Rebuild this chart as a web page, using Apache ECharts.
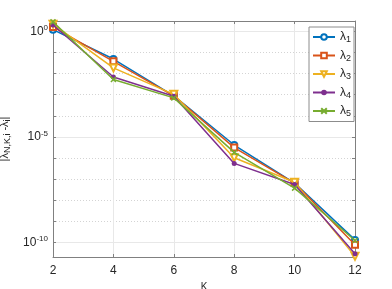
<!DOCTYPE html>
<html><head><meta charset="utf-8">
<script src="https://cdn.jsdelivr.net/npm/echarts@6/dist/echarts.min.js"></script>
<style>html,body{margin:0;padding:0;background:#fff}#c{width:392px;height:289px}</style>
</head><body><div id="c"></div>
<script>
var K = [2, 4, 6, 8, 10, 12];
var seriesNames = ['1', '2', '3', '4', '5'];
// log10 of |lambda_{N,K,i} - lambda_i|
var lam1 = [0.08, -1.31, -3.05, -5.38, -7.18, -9.87];
var lam2 = [0.21, -1.42, -3.05, -5.50, -7.18, -10.10];
var lam3 = [0.34, -1.73, -2.98, -5.98, -7.14, -10.65];
var lam4 = [0.30, -2.16, -3.07, -6.25, -7.25, -10.53];
var lam5 = [0.45, -2.28, -3.15, -5.73, -7.42, -9.90];
var yLabelExp = [0, -5, -10];
var yMinorExp = [0, -1, -2, -3, -4, -5, -6, -7, -8, -9, -10];
var colors = ['#0072BD', '#D95319', '#EDB120', '#7E2F8E', '#77AC30'];

var allExp = [lam1, lam2, lam3, lam4, lam5];
function pts(arr){ return arr.map(function(e,i){ return [K[i], Math.pow(10, e)]; }); }
function pw(a){ return a.map(function(e){ return Math.pow(10, e); }); }
var yMin = Math.pow(10, -10.68), yMax = Math.pow(10, 0.49);
var symbols = ['emptyCircle', 'emptyRect', 'emptyTriangle', 'circle', 'path://M0,0L10,10M10,0L0,10'];
var symSizes = [6, 6, 7, 5, 5];
var symRot = [0, 0, 180, 0, 0];
var txt = '#262626', axc = '#808080';

var series = allExp.map(function(arr, i){
  var it = i === 4 ? {color: 'none', borderColor: colors[i], borderWidth: 1.5} : {color: colors[i], borderWidth: 1.5};
  return {
    name: seriesNames[i], type: 'line', data: pts(arr),
    symbol: symbols[i], symbolSize: symSizes[i], symbolRotate: symRot[i],
    showAllSymbol: true,
    lineStyle: {color: colors[i], width: 1.5},
    itemStyle: it,
    emphasis: {disabled: true}, animation: false, z: 3 + i
  };
});

var chart = echarts.init(document.getElementById('c'), null, {renderer: 'canvas'});
chart.setOption({
  animation: false,
  grid: {left: 53, right: 37, top: 21, bottom: 32, containLabel: false, outerBoundsMode: 'none'},
  legend: {
    orient: 'vertical', left: 309, top: 27, itemWidth: 22, itemHeight: 7, itemGap: 5,
    padding: [4, 3, 3, 3], backgroundColor: '#fff', borderColor: '#8c8c8c', borderWidth: 1,
    data: seriesNames,
    formatter: function(n){ return '{a|λ}{s|' + n + '}'; },
    textStyle: {rich: {a: {fontSize: 12, color: txt, fontFamily: 'Liberation Sans'}, s: {fontSize: 9, color: txt, verticalAlign: 'bottom', padding: [6, 0, 0, 0], fontFamily: 'Liberation Sans'}}}
  },
  xAxis: [
    {type: 'value', min: 2, max: 12, interval: 2, position: 'bottom',
     axisLine: {lineStyle: {color: axc}}, axisTick: {inside: true, length: 3, lineStyle: {color: axc}},
     axisLabel: {color: txt, fontSize: 12, fontFamily: 'Liberation Sans', margin: 8},
     splitLine: {show: true, lineStyle: {color: '#e8e8e8', width: 1}},
     name: 'K', nameLocation: 'middle', nameGap: 20, nameTextStyle: {color: txt, fontSize: 10, fontFamily: 'Liberation Sans'}},
    {type: 'value', min: 2, max: 12, interval: 2, position: 'top',
     axisLine: {lineStyle: {color: axc}}, axisTick: {inside: true, length: 3, lineStyle: {color: axc}},
     axisLabel: {show: false}, splitLine: {show: false}}
  ],
  yAxis: [
    {type: 'log', logBase: 10, min: yMin, max: yMax, position: 'left',
     axisLine: {show: true, lineStyle: {color: axc}},
     axisTick: {show: true, inside: true, length: 3, lineStyle: {color: axc}, customValues: pw(yMinorExp)},
     axisLabel: {color: txt, fontSize: 12, fontFamily: 'Liberation Sans', margin: 5, customValues: pw(yLabelExp),
       formatter: function(v){ var e = Math.round(Math.log10(v)); return '{b|10}{p|' + e + '}'; },
       rich: {b: {fontSize: 12, color: txt, fontFamily: 'Liberation Sans'}, p: {fontSize: 8, color: txt, verticalAlign: 'top', padding: [0, 0, 7, 0], fontFamily: 'Liberation Sans'}}},
     splitLine: {show: true, lineStyle: {color: '#d4d4d4', type: [1, 2], width: 1}},
     name: '{t|\u007Cλ}{s|N,K,i}{t| -λ}{s|i}{t|\u007C}', nameLocation: 'middle', nameRotate: 90, nameGap: 31,
     nameTextStyle: {rich: {t: {fontSize: 11, color: txt, fontFamily: 'Liberation Sans'}, s: {fontSize: 9, color: txt, fontFamily: 'Liberation Sans', padding: [5, 0, 0, 0]}}}},
    {type: 'log', logBase: 10, min: yMin, max: yMax, position: 'right',
     axisLine: {show: true, lineStyle: {color: axc}},
     axisTick: {show: true, inside: true, length: 3, lineStyle: {color: axc}, customValues: pw(yMinorExp)},
     axisLabel: {show: false}, splitLine: {show: false}},
    {type: 'log', logBase: 10, min: yMin, max: yMax, position: 'left',
     axisLine: {show: false}, axisTick: {show: false, customValues: pw(yLabelExp)}, axisLabel: {show: false},
     splitLine: {show: true, lineStyle: {color: '#e8e8e8', width: 1}}}
  ],
  series: series
});
</script></body></html>
